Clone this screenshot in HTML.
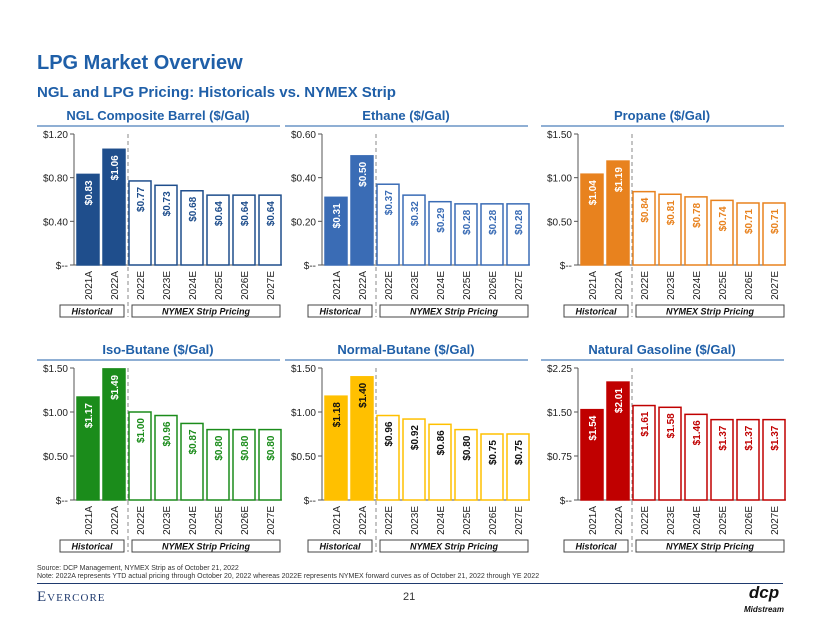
<!DOCTYPE html>
<html><head><meta charset="utf-8"><style>
body{margin:0;background:#fff;font-family:"Liberation Sans",sans-serif;}
#root{position:relative;width:820px;height:634px;overflow:hidden;}
.t{position:absolute;white-space:nowrap;}
</style></head><body>
<div id="root">
<div class="t" style="left:37px;top:52px;font-size:20px;font-weight:bold;color:#1f5fa8;">LPG Market Overview</div>
<div class="t" style="left:37px;top:84px;font-size:15px;font-weight:bold;color:#1f5fa8;">NGL and LPG Pricing: Historicals vs. NYMEX Strip</div>
<svg id="chart" width="820" height="634" style="position:absolute;left:0;top:0;font-family:'Liberation Sans',sans-serif"></svg>
<div class="t" style="left:37px;top:565px;font-size:7px;color:#333;">Source: DCP Management, NYMEX Strip as of October 21, 2022</div>
<div class="t" style="left:37px;top:573px;font-size:7px;color:#333;">Note: 2022A represents YTD actual pricing through October 20, 2022 whereas 2022E represents NYMEX forward curves as of October 21, 2022 through YE 2022</div>
<div style="position:absolute;left:37px;top:583px;width:746px;height:1px;background:#1f3a6e;"></div>
<div class="t" style="left:37px;top:589px;font-family:'Liberation Serif',serif;font-size:15px;color:#1f3a6e;letter-spacing:1px;">E<span style="font-size:11px">VERCORE</span></div>
<div class="t" style="left:403px;top:591px;font-size:11px;color:#333;">21</div>
<div class="t" style="left:742px;top:586px;width:44px;font-size:17px;font-weight:bold;font-style:italic;color:#111;line-height:14px;text-align:center;">dcp<br><span style="font-size:8px">Midstream</span></div>
</div>
<script>
const categories=["2021A","2022A","2022E","2023E","2024E","2025E","2026E","2027E"];
const titles=["NGL Composite Barrel ($/Gal)","Ethane ($/Gal)","Propane ($/Gal)","Iso-Butane ($/Gal)","Normal-Butane ($/Gal)","Natural Gasoline ($/Gal)"];
const ngl=[0.83,1.06,0.77,0.73,0.68,0.64,0.64,0.64];
const ethane=[0.31,0.50,0.37,0.32,0.29,0.28,0.28,0.28];
const propane=[1.04,1.19,0.84,0.81,0.78,0.74,0.71,0.71];
const isobutane=[1.17,1.49,1.00,0.96,0.87,0.80,0.80,0.80];
const nbutane=[1.18,1.40,0.96,0.92,0.86,0.80,0.75,0.75];
const natgas=[1.54,2.01,1.61,1.58,1.46,1.37,1.37,1.37];
const tickLabels=[["$--","$0.40","$0.80","$1.20"],["$--","$0.20","$0.40","$0.60"],["$--","$0.50","$1.00","$1.50"],["$--","$0.50","$1.00","$1.50"],["$--","$0.50","$1.00","$1.50"],["$--","$0.75","$1.50","$2.25"]];
const tickValues=[[0,0.4,0.8,1.2],[0,0.2,0.4,0.6],[0,0.5,1,1.5],[0,0.5,1,1.5],[0,0.5,1,1.5],[0,0.75,1.5,2.25]];
const series=[ngl,ethane,propane,isobutane,nbutane,natgas];
const colors=["#1f4e8c","#3a6cb5","#e8821e","#1b8c1b","#ffc000","#c00000"];
const textColors=["#1f4e8c","#3a6cb5","#e8821e","#1b8c1b","#111","#c00000"];
const names=["ngl","ethane","propane","isobutane","normal-butane","natural-gasoline"];
const svg=document.getElementById('chart');const NS="http://www.w3.org/2000/svg";
function mk(tag,attrs,parent,text){const e=document.createElementNS(NS,tag);for(const k in attrs)e.setAttribute(k,attrs[k]);if(text!==undefined)e.textContent=text;(parent||svg).appendChild(e);return e;}
const axX=[74,322,578],zeroYs=[265,500],topYs=[134,368];
series.forEach((vals,i)=>{
 const ax=axX[i%3],zy=zeroYs[Math.floor(i/3)],ty=topYs[Math.floor(i/3)];
 const maxV=tickValues[i][3];
 const y=v=>zy-(v/maxV)*(zy-ty);
 const g=mk('g',{});
 
 
 const tt=mk('text',{x:ax+84,y:ty-14,'text-anchor':'middle','font-size':13,'font-weight':'bold',fill:'#1f5fa8'},g,titles[i]);
 
 
 mk('line',{x1:ax-37,x2:ax+206,y1:ty-8,y2:ty-8,stroke:'#1f5fa8','stroke-width':1},g);
 mk('line',{x1:ax,x2:ax,y1:ty,y2:zy,stroke:'#555'},g);
 mk('line',{x1:ax,x2:ax+208,y1:zy,y2:zy,stroke:'#555'},g);
 tickValues[i].forEach((tv,k)=>{
  mk('line',{x1:ax-4,x2:ax,y1:y(tv),y2:y(tv),stroke:'#555'},g);
  const tl=mk('text',{x:ax-6,y:y(tv)+4,'text-anchor':'end','font-size':10,fill:'#222'},g,tickLabels[i][k]);
  
  
 });
 mk('line',{x1:ax+54,x2:ax+54,y1:ty,y2:zy+52,stroke:'#888','stroke-dasharray':'4,3'},g);
 vals.forEach((v,j)=>{
  const bx=ax+3+j*26,hist=j<2;
  const r=mk('rect',{x:bx,y:y(v),width:22,height:zy-y(v),fill:hist?colors[i]:'#fff',stroke:colors[i],'stroke-width':1.5},g);
  
  
  const cx=bx+11,ly=y(v)+6;
  const lbl=mk('text',{x:0,y:0,transform:`translate(${cx+4},${ly}) rotate(-90)`,'text-anchor':'end','font-size':10,'font-weight':'bold',fill:hist?(i==4?'#111':'#fff'):textColors[i]},g,'$'+v.toFixed(2));
  
  
  const cl=mk('text',{x:0,y:0,transform:`translate(${cx+4},${zy+6}) rotate(-90)`,'text-anchor':'end','font-size':10,fill:'#222'},g,categories[j]);
  
  
 });
 const by=zy+40;
 mk('rect',{x:ax-14,y:by,width:64,height:12,fill:'#fff',stroke:'#444'},g);
 const h=mk('text',{x:ax+18,y:by+9.5,'text-anchor':'middle','font-size':9,'font-weight':'bold','font-style':'italic',fill:'#111'},g,'Historical');
 
 
 mk('rect',{x:ax+58,y:by,width:148,height:12,fill:'#fff',stroke:'#444'},g);
 const n=mk('text',{x:ax+132,y:by+9.5,'text-anchor':'middle','font-size':9,'font-weight':'bold','font-style':'italic',fill:'#111'},g,'NYMEX Strip Pricing');
 
 
});
</script>
</body></html>
